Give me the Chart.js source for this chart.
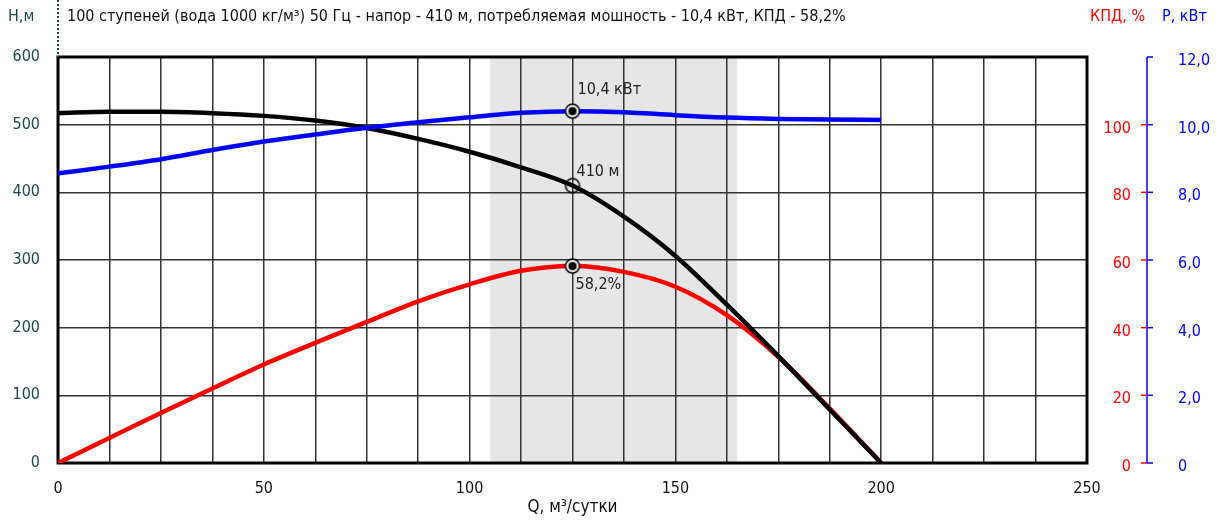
<!DOCTYPE html>
<html>
<head>
<meta charset="utf-8">
<script src="https://cdn.jsdelivr.net/npm/chart.js@4.4.1/dist/chart.umd.min.js"></script>
<style>
  html, body { margin: 0; padding: 0; background: #fff; }
  #wrap { width: 1216px; height: 521px; }
</style>
</head>
<body>
<div id="wrap"><canvas id="pumpChart" width="1216" height="521"></canvas></div>
<script>
// --- данные кривой насоса ---
const Q   = [0, 12.5, 25, 37.5, 50, 62.5, 75, 87.5, 100, 112.5, 125, 137.5, 150, 162.5, 175, 187.5, 200];
const H   = [517, 519, 519, 517, 513, 506, 495, 479, 460, 437, 410, 364, 306, 234, 158, 79, 0];
const KPD = [0, 7.4, 14.8, 22.0, 29.1, 35.5, 41.7, 47.8, 52.8, 56.8, 58.2, 56.5, 52.1, 43.7, 31.4, 16.1, 0];
const P   = [8.56, 8.76, 8.98, 9.25, 9.50, 9.71, 9.91, 10.07, 10.22, 10.35, 10.4, 10.37, 10.28, 10.21, 10.17, 10.15, 10.14];

// рабочая точка и рабочая зона
const dutyQ = 125, dutyH = 410, dutyKPD = 58.2, dutyP = 10.4;
const workZone = [105, 165];

// оси
const xMax = 250, xStep = 12.5, xLabelStep = 50;
const hMax = 600, hStep = 100;
const kpdMax = 120, kpdStep = 20, kpdLabelMax = 100;
const pMax = 12, pStep = 2;

const titleText = "100 ступеней (вода 1000 кг/м³) 50 Гц - напор - 410 м, потребляемая мошность - 10,4 кВт, КПД - 58,2%";
const FONT = "'DejaVu Sans Condensed', 'Roboto', sans-serif";
const TEAL = "#1d4a4a";
const BAND = "#e6e6e6";

function fmtComma(v){ return v === 0 ? "0" : v.toFixed(1).replace(".", ","); }

// маркер рабочей точки: кольцо + точка
function makeMarker(withDot){
  const c = document.createElement("canvas");
  c.width = 18; c.height = 18;
  const g = c.getContext("2d");
  g.beginPath(); g.arc(9, 9, 7, 0, Math.PI * 2);
  if (withDot) { g.fillStyle = BAND; g.fill(); }
  g.lineWidth = 1.5; g.strokeStyle = "#000"; g.stroke();
  if (withDot) { g.beginPath(); g.arc(9, 9, 4, 0, Math.PI * 2); g.fillStyle = "#000"; g.fill(); }
  return c;
}
const markerDot = makeMarker(true);
const markerRing = makeMarker(false);

const decorPlugin = {
  id: "decor",
  beforeDraw(chart){
    const { ctx, chartArea: a, scales: { x } } = chart;
    ctx.save();
    ctx.fillStyle = BAND;
    const x0 = x.getPixelForValue(workZone[0]), x1 = x.getPixelForValue(workZone[1]);
    ctx.fillRect(x0, a.top, x1 - x0, a.bottom - a.top);
    ctx.restore();
  },
  beforeDatasetsDraw(chart){
    const { ctx, chartArea: a } = chart;
    ctx.save();
    ctx.strokeStyle = "#000"; ctx.lineWidth = 3;
    ctx.strokeRect(a.left, a.top, a.right - a.left, a.bottom - a.top);
    ctx.restore();
  },
  afterDraw(chart){
    const { ctx, chartArea: a, scales: { x, y, y1, y2 } } = chart;
    ctx.save();
    // заголовки
    ctx.textBaseline = "middle";
    ctx.font = "16px " + FONT;
    ctx.fillStyle = TEAL; ctx.textAlign = "left";
    ctx.fillText("Н,м", 8, 17);
    ctx.fillStyle = "#111";
    ctx.fillText(titleText, 67, 17);
    ctx.fillStyle = "#ff0000";
    ctx.fillText("КПД, %", 1090, 17);
    ctx.fillStyle = "#0000ff";
    ctx.fillText("P, кВт", 1162, 17);
    // пунктир над осью Н
    ctx.strokeStyle = TEAL; ctx.lineWidth = 2; ctx.setLineDash([2, 2]);
    ctx.beginPath(); ctx.moveTo(a.left, 0); ctx.lineTo(a.left, a.top); ctx.stroke();
    ctx.setLineDash([]);
    // ось P (синяя) с засечками КПД (красные)
    const ax = 1147;
    ctx.strokeStyle = "#0000ff"; ctx.lineWidth = 1.5;
    ctx.beginPath(); ctx.moveTo(ax, y2.getPixelForValue(pMax)); ctx.lineTo(ax, y2.getPixelForValue(0)); ctx.stroke();
    for (let v = 0; v <= pMax; v += pStep) {
      const py = y2.getPixelForValue(v);
      ctx.beginPath(); ctx.moveTo(ax, py); ctx.lineTo(ax + 6, py); ctx.stroke();
    }
    ctx.strokeStyle = "#ff0000";
    for (let v = 0; v <= kpdLabelMax; v += kpdStep) {
      const py = y1.getPixelForValue(v);
      ctx.beginPath(); ctx.moveTo(ax - 6, py); ctx.lineTo(ax, py); ctx.stroke();
    }
    // подписи рабочей точки
    ctx.font = "16px " + FONT; ctx.fillStyle = "#222"; ctx.textAlign = "left";
    const qx = x.getPixelForValue(dutyQ);
    ctx.fillText("10,4 кВт", qx + 5, y2.getPixelForValue(dutyP) - 21);
    ctx.fillText("410 м", qx + 4, y.getPixelForValue(dutyH) - 14);
    ctx.fillText("58,2%", qx + 3, y1.getPixelForValue(dutyKPD) + 19);
    ctx.restore();
  }
};

const pts = (ys) => Q.map((q, i) => ({ x: q, y: ys[i] }));
const curve = (label, data, color, axis) => ({
  label, data, yAxisID: axis, borderColor: color, borderWidth: 4.5, showLine: true,
  pointRadius: 0, fill: false, cubicInterpolationMode: "monotone"
});
const marker = (value, axis, img) => ({
  label: "duty", data: [{ x: dutyQ, y: value }], yAxisID: axis,
  pointStyle: img, pointRadius: 9, showLine: false
});

new Chart(document.getElementById("pumpChart"), {
  type: "scatter",
  data: {
    datasets: [
      marker(dutyP, "y2", markerDot),
      marker(dutyH, "y", markerRing),
      marker(dutyKPD, "y1", markerDot),
      curve("P", pts(P), "#0000ff", "y2"),
      curve("H", pts(H), "#000000", "y"),
      curve("КПД", pts(KPD), "#ff0000", "y1")
    ]
  },
  options: {
    responsive: false, devicePixelRatio: 1, animation: false,
    layout: { padding: { top: 57, left: 0, right: 0, bottom: 0 } },
    plugins: { legend: { display: false }, tooltip: { enabled: false } },
    scales: {
      x: {
        type: "linear", min: 0, max: xMax,
        afterFit: (s) => { s.height = 58; },
        ticks: {
          stepSize: xStep, autoSkip: false, maxRotation: 0, padding: 16, color: "#111",
          font: { family: FONT, size: 16 },
          callback: (v) => (v % xLabelStep === 0 ? String(v) : "")
        },
        grid: { color: "#333", lineWidth: 1.5, drawTicks: false },
        border: { display: false },
        title: {
          display: true, text: "Q, м³/сутки", color: "#111",
          font: { family: FONT, size: 17 }, padding: { top: 0, bottom: 3 }
        }
      },
      y: {
        position: "left", min: 0, max: hMax,
        afterFit: (s) => { s.width = 58; },
        ticks: { stepSize: hStep, padding: 18, color: TEAL, font: { family: FONT, size: 16 } },
        grid: { color: "#333", lineWidth: 1.5, drawTicks: false },
        border: { display: false }
      },
      y1: {
        position: "right", min: 0, max: kpdMax,
        afterFit: (s) => { s.width = 44; },
        ticks: {
          stepSize: kpdStep, crossAlign: "far", labelOffset: 4, color: "#ff0000",
          font: { family: FONT, size: 16 },
          callback: (v) => (v <= kpdLabelMax ? String(v) : "")
        },
        grid: { display: false },
        border: { display: false }
      },
      y2: {
        position: "right", min: 0, max: pMax,
        afterFit: (s) => { s.width = 85; },
        ticks: {
          stepSize: pStep, padding: 39, labelOffset: 4, color: "#0000ff",
          font: { family: FONT, size: 16 },
          callback: (v) => fmtComma(v)
        },
        grid: { display: false },
        border: { display: false }
      }
    }
  },
  plugins: [decorPlugin]
});
</script>
</body>
</html>
